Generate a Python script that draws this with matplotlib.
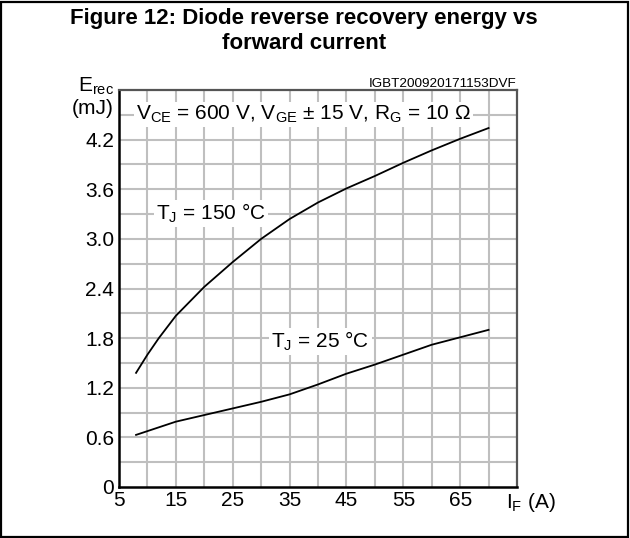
import matplotlib
matplotlib.use("Agg")
import matplotlib.pyplot as plt
from matplotlib.patches import Rectangle

plt.rcParams['font.family'] = ['Liberation Sans', 'DejaVu Sans']
plt.rcParams['mathtext.default'] = 'regular'

# Data
if_150 = [8, 10, 12, 15, 20, 25, 30, 35, 40, 45, 50, 55, 60, 65, 70]
erec_150 = [1.38, 1.60, 1.80, 2.07, 2.42, 2.72, 3.0, 3.24, 3.44, 3.61, 3.76, 3.92, 4.07, 4.21, 4.34]
if_25 = [8, 15, 20, 25, 30, 35, 40, 45, 50, 55, 60, 65, 70]
erec_25 = [0.63, 0.79, 0.87, 0.95, 1.03, 1.12, 1.24, 1.37, 1.48, 1.60, 1.72, 1.81, 1.90]
x_ticks = [5, 15, 25, 35, 45, 55, 65]
y_ticks = [0, 0.6, 1.2, 1.8, 2.4, 3.0, 3.6, 4.2]
y_ticklabels = ['0', '0.6', '1.2', '1.8', '2.4', '3.0', '3.6', '4.2']

W, H = 630, 538
FS = 15
fig = plt.figure(figsize=(W / 100, H / 100), dpi=100)
ax = fig.add_axes([119 / W, 1 - 487 / H, (517 - 119) / W, (487 - 90) / H])

ax.set_xlim(5, 75)
ax.set_ylim(0, 4.8)
for xv in range(10, 75, 5):
    ax.axvline(xv, color='#bfbfbf', lw=1.5, zorder=0)
for k in range(1, 16):
    ax.axhline(k * 0.3, color='#bfbfbf', lw=1.5, zorder=0)

ax.plot(if_150, erec_150, color='black', lw=1.3, zorder=3)
ax.plot(if_25, erec_25, color='black', lw=1.3, zorder=3)

ax.set_xticks(x_ticks)
ax.set_xticklabels([str(v) for v in x_ticks])
ax.set_yticks(y_ticks)
ax.set_yticklabels(y_ticklabels)
ax.tick_params(length=0, labelsize=FS, colors='black')
ax.tick_params(axis='x', pad=3)
ax.tick_params(axis='y', pad=3.5)

for s in ['left', 'bottom']:
    ax.spines[s].set_color('black')
    ax.spines[s].set_linewidth(1.8)
for s in ['top', 'right']:
    ax.spines[s].set_color('#555555')
    ax.spines[s].set_linewidth(1.6)

bbox = dict(facecolor='white', edgecolor='none', pad=1.5)
ax.text(8.0, 4.44, 'V$_{CE}$ = 600 V, V$_{GE}$ ± 15 V, R$_{G}$ = 10 Ω',
        fontsize=FS, va='baseline', ha='left', bbox=bbox, zorder=4)
ax.text(11.5, 3.23, 'T$_{J}$ = 150 °C', fontsize=FS, va='baseline', ha='left',
        bbox=bbox, zorder=4)
ax.text(31.8, 1.68, 'T$_{J}$ = 25 °C', fontsize=FS, va='baseline', ha='left',
        bbox=bbox, zorder=4)

fig.text(516 / W, 1 - 87 / H, 'IGBT200920171153DVF', fontsize=9.7,
         ha='right', va='baseline')
fig.text(114 / W, 1 - 92 / H, 'E$_{rec}$', fontsize=FS, ha='right', va='baseline')
fig.text(114 / W, 1 - 114 / H, '(mJ)', fontsize=FS, ha='right', va='baseline')
fig.text(506 / W, 1 - 508 / H, 'I$_{F}$ (A)', fontsize=FS, ha='left', va='baseline')

fig.text(304 / W, 1 - 24 / H, 'Figure 12: Diode reverse recovery energy vs',
         fontsize=16, fontweight='bold', ha='center', va='baseline')
fig.text(304 / W, 1 - 49 / H, 'forward current',
         fontsize=16, fontweight='bold', ha='center', va='baseline')

fig.patches.append(Rectangle((1 / W, 1 / H), (W - 3) / W, (H - 3) / H,
                             transform=fig.transFigure, fill=False,
                             edgecolor='black', lw=1.6))

fig.savefig('out.png', dpi=100)
